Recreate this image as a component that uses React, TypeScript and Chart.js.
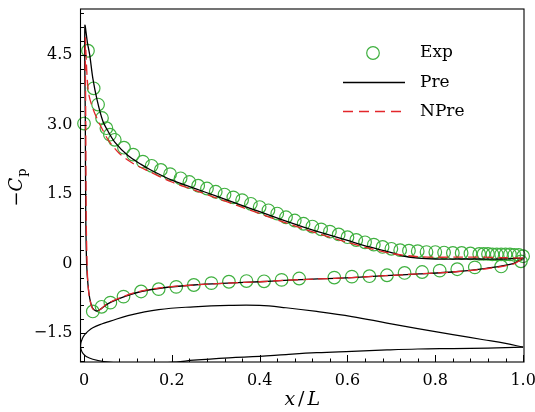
import { useEffect, useRef } from "react";
import { Chart, registerables } from "chart.js";
Chart.register(...registerables);

// ---- axis ticks ----
const xTicks = [0, 0.2, 0.4, 0.6, 0.8, 1.0];
const xTickLabels = ["0", "0.2", "0.4", "0.6", "0.8", "1.0"];
const yTicks = [-1.5, 0, 1.5, 3.0, 4.5];
const yTickLabels = ["\u22121.5", "0", "1.5", "3.0", "4.5"];

// ---- legend ----
const seriesNames = ["Exp", "Pre", "NPre"];

// ---- experiment (circles) ----
const expUpperX = [0.0, 0.009, 0.022, 0.032, 0.041, 0.051, 0.059, 0.07, 0.091, 0.112, 0.134, 0.154, 0.175, 0.196, 0.22, 0.24, 0.26, 0.28, 0.3, 0.32, 0.34, 0.36, 0.38, 0.4, 0.42, 0.44, 0.46, 0.48, 0.5, 0.52, 0.54, 0.56, 0.58, 0.6, 0.62, 0.64, 0.66, 0.68, 0.7, 0.72, 0.74, 0.76, 0.78, 0.8, 0.82, 0.84, 0.86, 0.88, 0.9, 0.91, 0.92, 0.93, 0.94, 0.95, 0.96, 0.97, 0.98, 0.99, 1.0];
const expUpperY = [3.02, 4.59, 3.78, 3.43, 3.14, 2.92, 2.78, 2.67, 2.5, 2.35, 2.2, 2.11, 2.02, 1.93, 1.84, 1.76, 1.68, 1.62, 1.55, 1.49, 1.43, 1.37, 1.29, 1.22, 1.15, 1.08, 1.0, 0.93, 0.86, 0.8, 0.74, 0.69, 0.63, 0.57, 0.51, 0.46, 0.41, 0.36, 0.32, 0.29, 0.28, 0.27, 0.25, 0.25, 0.24, 0.23, 0.23, 0.22, 0.21, 0.21, 0.21, 0.2, 0.2, 0.2, 0.2, 0.2, 0.19, 0.19, 0.16];
const expLowerX = [0.02, 0.04, 0.06, 0.09, 0.13, 0.17, 0.21, 0.25, 0.29, 0.33, 0.37, 0.41, 0.45, 0.49, 0.57, 0.61, 0.65, 0.69, 0.73, 0.77, 0.81, 0.85, 0.89, 0.95, 0.995];
const expLowerY = [-1.03, -0.93, -0.84, -0.71, -0.6, -0.55, -0.5, -0.46, -0.42, -0.39, -0.375, -0.38, -0.35, -0.32, -0.3, -0.28, -0.27, -0.25, -0.2, -0.18, -0.15, -0.12, -0.08, -0.06, 0.05];

// ---- Pre (solid black) ----
const preX = [1.0, 0.95, 0.9, 0.85, 0.8, 0.76, 0.73, 0.7, 0.65, 0.6, 0.55, 0.5, 0.45, 0.4, 0.35, 0.3, 0.25, 0.2, 0.15, 0.13, 0.1, 0.07, 0.055, 0.043, 0.03, 0.02, 0.013, 0.008, 0.002, 0.003, 0.004, 0.006, 0.009, 0.013, 0.019, 0.027, 0.035, 0.055, 0.095, 0.13, 0.173, 0.25, 0.327, 0.4, 0.456, 0.533, 0.61, 0.686, 0.763, 0.839, 0.916, 0.977, 1.0];
const preY = [0.12, 0.1, 0.1, 0.1, 0.1, 0.12, 0.16, 0.24, 0.36, 0.5, 0.64, 0.79, 0.95, 1.12, 1.29, 1.46, 1.63, 1.8, 2.03, 2.14, 2.33, 2.62, 2.85, 3.07, 3.52, 4.0, 4.5, 4.75, 5.13, 3.0, 1.0, 0.0, -0.45, -0.75, -0.95, -1.02, -1.0, -0.86, -0.7, -0.6, -0.53, -0.46, -0.42, -0.39, -0.36, -0.33, -0.3, -0.26, -0.22, -0.18, -0.1, 0.0, 0.12];

// ---- NPre (dashed red) ----
const npreX = [1.0, 0.95, 0.9, 0.85, 0.8, 0.75, 0.7, 0.65, 0.6, 0.55, 0.5, 0.45, 0.4, 0.35, 0.3, 0.25, 0.2, 0.15, 0.11, 0.08, 0.055, 0.04, 0.03, 0.02, 0.012, 0.008, 0.005, 0.003, 0.004, 0.005, 0.007, 0.009, 0.013, 0.019, 0.027, 0.035, 0.055, 0.095, 0.13, 0.173, 0.25, 0.327, 0.4, 0.456, 0.533, 0.61, 0.686, 0.763, 0.839, 0.916, 0.977, 1.0];
const npreY = [0.12, 0.13, 0.14, 0.14, 0.14, 0.16, 0.22, 0.33, 0.46, 0.6, 0.75, 0.91, 1.08, 1.25, 1.42, 1.59, 1.76, 1.98, 2.17, 2.38, 2.67, 2.93, 3.12, 3.35, 3.6, 3.9, 4.4, 4.86, 3.0, 1.0, 0.0, -0.45, -0.76, -0.96, -1.02, -1.0, -0.85, -0.69, -0.59, -0.52, -0.46, -0.42, -0.39, -0.36, -0.33, -0.3, -0.26, -0.22, -0.18, -0.11, -0.01, 0.12];

// ---- airfoil outline ----
const foilUpperX = [-0.008, -0.007, -0.004, 0.0, 0.01, 0.02, 0.04, 0.06, 0.1, 0.17, 0.25, 0.33, 0.4, 0.46, 0.53, 0.61, 0.69, 0.76, 0.84, 0.91, 0.96, 1.0];
const foilUpperY = [-1.79, -1.7, -1.62, -1.55, -1.45, -1.38, -1.3, -1.24, -1.12, -0.99, -0.93, -0.9, -0.9, -0.95, -1.03, -1.14, -1.28, -1.4, -1.53, -1.64, -1.72, -1.8];
const foilLowerX = [-0.008, -0.006, -0.002, 0.005, 0.02, 0.045, 0.08, 0.15, 0.21, 0.25, 0.33, 0.4, 0.46, 0.53, 0.61, 0.69, 0.76, 0.84, 0.92, 1.0];
const foilLowerY = [-1.79, -1.87, -1.94, -2.0, -2.06, -2.11, -2.14, -2.15, -2.12, -2.08, -2.03, -2.0, -1.96, -1.92, -1.89, -1.86, -1.84, -1.83, -1.82, -1.8];

const GREEN = "#3fb03f";
const RED = "#e3262b";
const SERIF = "'DejaVu Serif', serif";

const pts = (xs: number[], ys: number[]) => xs.map((x, i) => ({ x, y: ys[i] }));

const zeroPad = (s: any) => {
  s.paddingTop = 0;
  s.paddingBottom = 0;
  s.paddingLeft = 0;
  s.paddingRight = 0;
};

export default function App() {
  const ref = useRef<HTMLCanvasElement | null>(null);
  useEffect(() => {
    document.body.style.margin = "0";
    const deco = {
      id: "deco",
      afterDraw(chart: any) {
        const { ctx, chartArea: a, scales } = chart;
        const xs = scales.x, ys = scales.y;
        ctx.save();
        ctx.strokeStyle = "#000";
        ctx.lineWidth = 1.1;
        ctx.strokeRect(a.left, a.top, a.right - a.left, a.bottom - a.top);
        ctx.lineWidth = 1;
        ctx.beginPath();
        // y ticks (inward)
        for (let k = -7; k <= 18; k++) {
          const v = k * 0.3;
          if (v < ys.min || v > ys.max) continue;
          const p = Math.round(ys.getPixelForValue(v)) + 0.5;
          const major = k % 5 === 0;
          ctx.moveTo(a.left, p);
          ctx.lineTo(a.left + (major ? 6 : 3.5), p);
        }
        // x ticks (inward)
        for (let k = 0; k <= 25; k++) {
          const v = k * 0.04;
          const p = Math.round(xs.getPixelForValue(v)) + 0.5;
          const major = k % 5 === 0;
          ctx.moveTo(p, a.bottom);
          ctx.lineTo(p, a.bottom - (major ? 7 : 3.5));
        }
        ctx.stroke();

        // legend
        const lx0 = 343, lx1 = 405, tx = 420;
        const rows = [53, 82.5, 111.5];
        ctx.strokeStyle = GREEN;
        ctx.lineWidth = 1.2;
        ctx.beginPath();
        ctx.arc(373, rows[0], 6.3, 0, Math.PI * 2);
        ctx.stroke();
        ctx.strokeStyle = "#000";
        ctx.lineWidth = 1.3;
        ctx.beginPath();
        ctx.moveTo(lx0, rows[1]);
        ctx.lineTo(lx1, rows[1]);
        ctx.stroke();
        ctx.strokeStyle = RED;
        ctx.setLineDash([10, 6]);
        ctx.beginPath();
        ctx.moveTo(lx0, rows[2]);
        ctx.lineTo(402, rows[2]);
        ctx.stroke();
        ctx.setLineDash([]);
        ctx.fillStyle = "#000";
        ctx.font = `17px ${SERIF}`;
        ctx.textAlign = "left";
        ctx.textBaseline = "middle";
        seriesNames.forEach((n, i) => ctx.fillText(n, tx, rows[i]));

        // x title: x/L
        const cx = (a.left + a.right) / 2;
        const by = 405;
        ctx.textBaseline = "alphabetic";
        const fi = `italic 19px ${SERIF}`, fr = `19px ${SERIF}`;
        ctx.font = fi; const w1 = ctx.measureText("x").width;
        ctx.font = fr; const w2 = ctx.measureText("/").width;
        ctx.font = fi; const w3 = ctx.measureText("L").width;
        const gap = 3;
        let sx = cx - (w1 + w2 + w3 + 2 * gap) / 2;
        ctx.font = fi; ctx.fillText("x", sx, by); sx += w1 + gap;
        ctx.font = fr; ctx.fillText("/", sx, by); sx += w2 + gap;
        ctx.font = fi; ctx.fillText("L", sx, by);

        // y title: −C_p
        ctx.save();
        ctx.translate(22, (a.top + a.bottom) / 2 + 2);
        ctx.rotate(-Math.PI / 2);
        ctx.textBaseline = "alphabetic";
        const fm = `18px ${SERIF}`, fc = `italic 18px ${SERIF}`, fs = `13px ${SERIF}`;
        ctx.font = fm; const m1 = ctx.measureText("\u2212").width;
        ctx.font = fc; const m2 = ctx.measureText("C").width;
        ctx.font = fs; const m3 = ctx.measureText("p").width;
        let s = -(m1 + m2 + m3 + 1) / 2;
        ctx.font = fm; ctx.fillText("\u2212", s, 0); s += m1;
        ctx.font = fc; ctx.fillText("C", s, 0); s += m2 + 1;
        ctx.font = fs; ctx.fillText("p", s, 3.5);
        ctx.restore();
        ctx.restore();
      },
    };

    const chart = new Chart(ref.current as HTMLCanvasElement, {
      type: "scatter",
      data: {
        datasets: [
          {
            label: seriesNames[2],
            data: pts(npreX, npreY),
            showLine: true,
            borderColor: RED,
            borderWidth: 1.3,
            borderDash: [10, 5],
            pointRadius: 0,
            fill: false,
            tension: 0.3,
            order: 0,
          } as any,
          {
            label: seriesNames[1],
            data: pts(preX, preY),
            showLine: true,
            borderColor: "#000",
            borderWidth: 1.3,
            pointRadius: 0,
            fill: false,
            tension: 0.3,
            order: 1,
          } as any,
          {
            label: seriesNames[0],
            data: pts(expUpperX.concat(expLowerX), expUpperY.concat(expLowerY)),
            showLine: false,
            pointStyle: "circle",
            pointRadius: 6.3,
            pointBorderWidth: 1.2,
            borderColor: GREEN,
            backgroundColor: "rgba(0,0,0,0)",
            clip: false,
            order: 2,
          } as any,
          {
            label: "foilU",
            data: pts(foilUpperX, foilUpperY),
            showLine: true,
            borderColor: "#000",
            borderWidth: 1.2,
            pointRadius: 0,
            tension: 0.4,
            order: 3,
          } as any,
          {
            label: "foilL",
            data: pts(foilLowerX, foilLowerY),
            showLine: true,
            borderColor: "#000",
            borderWidth: 1.2,
            pointRadius: 0,
            tension: 0.4,
            order: 3,
          } as any,
        ],
      },
      options: {
        animation: false,
        responsive: true,
        maintainAspectRatio: false,
        layout: { autoPadding: false, padding: { left: 0, right: 11, top: 9, bottom: 0 } },
        plugins: { legend: { display: false }, tooltip: { enabled: false } },
        scales: {
          x: {
            type: "linear",
            min: -0.008,
            max: 1.002,
            grid: { display: false, drawTicks: false },
            border: { display: false },
            afterBuildTicks: (s: any) => { s.ticks = xTicks.map((v) => ({ value: v })); },
            afterFit: (s: any) => { s.height = 50; zeroPad(s); },
            ticks: {
              autoSkip: false,
              maxRotation: 0,
              padding: 9,
              color: "#000",
              font: { family: SERIF, size: 16 },
              callback: (v: any) => {
                const i = xTicks.findIndex((t) => Math.abs(t - Number(v)) < 1e-9);
                return i >= 0 ? xTickLabels[i] : "";
              },
            },
          },
          y: {
            type: "linear",
            min: -2.12,
            max: 5.49,
            grid: { display: false, drawTicks: false },
            border: { display: false },
            afterBuildTicks: (s: any) => { s.ticks = yTicks.map((v) => ({ value: v })); },
            afterFit: (s: any) => { s.width = 80.5; zeroPad(s); },
            ticks: {
              autoSkip: false,
              padding: 8,
              color: "#000",
              font: { family: SERIF, size: 16 },
              callback: (v: any) => {
                const i = yTicks.findIndex((t) => Math.abs(t - Number(v)) < 1e-9);
                return i >= 0 ? yTickLabels[i] : "";
              },
            },
          },
        },
      },
      plugins: [deco],
    });
    return () => chart.destroy();
  }, []);
  return (
    <div style={{ width: 535, height: 412, position: "relative" }}>
      <canvas ref={ref} />
    </div>
  );
}
